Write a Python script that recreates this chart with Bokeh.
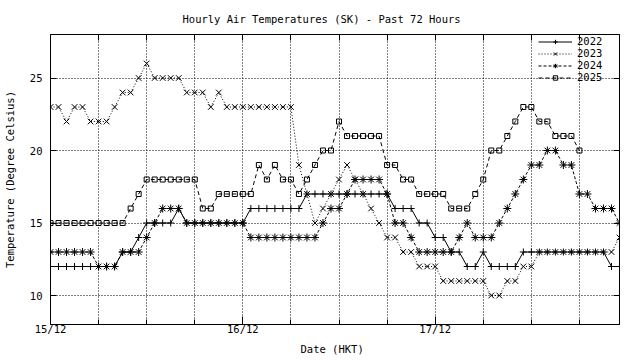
from bokeh.plotting import figure
from bokeh.models import FixedTicker, LinearAxis, Range1d, Legend, LegendItem, Title
from bokeh.embed import file_html
from bokeh.resources import INLINE

# ---------------- data ----------------
hours = list(range(72))            # hours since 15/12 00:00 HKT
day_ticks = [0, 24, 48]
day_labels = ["15/12", "16/12", "17/12"]
six_hour_ticks = [6, 12, 18, 24, 30, 36, 42, 48, 54, 60, 66]
minor_ticks = [6, 12, 18, 30, 36, 42, 54, 60, 66]
temp_ticks = [10, 15, 20, 25]

t2022 = [12, 12, 12, 12, 12, 12, 12, 12, 12, 13, 13, 14, 15, 15, 15, 15, 16, 15,
         15, 15, 15, 15, 15, 15, 15, 16, 16, 16, 16, 16, 16, 16, 17, 17, 17, 17,
         17, 17, 17, 17, 17, 17, 17, 16, 16, 16, 15, 15, 14, 14, 13, 13, 12, 12,
         13, 12, 12, 12, 12, 13, 13, 13, 13, 13, 13, 13, 13, 13, 13, 13, 12, 12]
t2023 = [23, 23, 22, 23, 23, 22, 22, 22, 23, 24, 24, 25, 26, 25, 25, 25, 25, 24,
         24, 24, 23, 24, 23, 23, 23, 23, 23, 23, 23, 23, 23, 19, 17, 15, 16, 17,
         18, 19, 18, 17, 16, 15, 14, 14, 13, 13, 12, 12, 12, 11, 11, 11, 11, 11,
         11, 10, 10, 11, 11, 12, 12, 13, 13, 13, 13, 13, 13, 13, 13, 13, 13, 14]
t2024 = [13, 13, 13, 13, 13, 13, 12, 12, 12, 13, 13, 13, 14, 15, 16, 16, 16, 15,
         15, 15, 15, 15, 15, 15, 15, 14, 14, 14, 14, 14, 14, 14, 14, 14, 15, 16,
         16, 17, 18, 18, 18, 18, 17, 15, 15, 14, 13, 13, 13, 13, 13, 14, 15, 14,
         14, 14, 15, 16, 17, 18, 19, 19, 20, 20, 19, 19, 17, 17, 16, 16, 16, 15]
t2025 = [15, 15, 15, 15, 15, 15, 15, 15, 15, 15, 16, 17, 18, 18, 18, 18, 18, 18,
         18, 16, 16, 17, 17, 17, 17, 17, 19, 18, 19, 18, 18, 17, 18, 19, 20, 20,
         22, 21, 21, 21, 21, 21, 19, 19, 18, 18, 17, 17, 17, 17, 16, 16, 16, 17,
         18, 20, 20, 21, 22, 23, 23, 22, 22, 21, 21, 21, 20]

series = [
    ("2022", t2022, "solid", "cross", 7),
    ("2023", t2023, "1 2", "x", 8),
    ("2024", t2024, "3 2", "asterisk", 8),
    ("2025", t2025, "4 3", "square", 5),
]

FONT = "DejaVu Sans Mono"
FS = "10.5px"

p = figure(width=640, height=360, output_backend="svg", toolbar_location=None,
           x_range=Range1d(0, 71), y_range=Range1d(8, 28),
           min_border_left=48, min_border_right=21, min_border_top=34,
           min_border_bottom=36)
p.background_fill_color = "white"
p.border_fill_color = "white"
p.outline_line_color = "black"
p.outline_line_width = 1

# title
p.title.text = "Hourly Air Temperatures (SK) - Past 72 Hours"
p.title.align = "left"
p.title.offset = 132
p.title.text_font = FONT
p.title.text_font_size = FS
p.title.text_font_style = "normal"
p.title.text_color = "black"
p.title.standoff = 20

# x axis
xa = p.xaxis[0]
xa.ticker = FixedTicker(ticks=day_ticks, minor_ticks=minor_ticks)
xa.major_label_overrides = {t: lab for t, lab in zip(day_ticks, day_labels)}
xa.major_label_text_font = FONT
xa.major_label_text_font_size = FS
xa.major_tick_in = 8
xa.major_tick_out = 0
xa.minor_tick_in = 5
xa.minor_tick_out = 0
xa.major_label_standoff = -2

xlabel = Title(text="Date (HKT)", align="left", offset=250, text_font=FONT,
               text_font_size=FS, text_font_style="normal", text_color="black",
               standoff=7)
p.add_layout(xlabel, "below")

# y axis
ya = p.yaxis[0]
ya.ticker = FixedTicker(ticks=temp_ticks)
ya.axis_label = "Temperature (Degree Celsius)"
ya.major_label_text_font = FONT
ya.major_label_text_font_size = FS
ya.axis_label_text_font = FONT
ya.axis_label_text_font_size = FS
ya.axis_label_text_font_style = "normal"
ya.major_tick_in = 6
ya.major_tick_out = 0
ya.minor_tick_line_color = None
ya.major_label_standoff = 8
ya.axis_label_standoff = 11

for ax in (xa, ya):
    ax.axis_line_color = "black"
    ax.major_tick_line_color = "black"
    ax.major_label_text_color = "black"
    ax.axis_label_text_color = "black"

# mirrored ticks (no labels: ticks given as minor ticks only)
ra = LinearAxis(ticker=FixedTicker(ticks=[], minor_ticks=temp_ticks),
                major_tick_in=0, major_tick_out=0, minor_tick_in=6, minor_tick_out=0,
                major_label_standoff=0, axis_line_color="black",
                minor_tick_line_color="black")
p.add_layout(ra, "right")
ta = LinearAxis(ticker=FixedTicker(ticks=[], minor_ticks=six_hour_ticks),
                major_tick_in=0, major_tick_out=0, minor_tick_in=6, minor_tick_out=0,
                major_label_standoff=-6, axis_line_color="black",
                minor_tick_line_color="black")
p.add_layout(ta, "above")

# grid
p.xgrid.ticker = FixedTicker(ticks=six_hour_ticks)
p.ygrid.ticker = FixedTicker(ticks=temp_ticks)
for g in (p.xgrid[0], p.ygrid[0]):
    g.grid_line_color = "black"
    g.grid_line_dash = "1 2"
    g.grid_line_width = 1

items = []
for name, vals, dash, marker, size in series:
    xs = hours[:len(vals)]
    ln = p.line(xs, vals, line_color="black", line_width=1, line_dash=dash)
    sc = p.scatter(xs, vals, marker=marker, size=size, line_color="black",
                   fill_color=None, line_width=1)
    items.append(LegendItem(label=name, renderers=[ln, sc]))

legend = Legend(items=items, location=(486, 239))
legend.background_fill_alpha = 0
legend.border_line_alpha = 0
legend.label_text_font = FONT
legend.label_text_font_size = FS
legend.label_text_color = "black"
legend.glyph_width = 34
legend.glyph_height = 11
legend.label_height = 11
legend.spacing = 0
legend.padding = 2
legend.margin = 0
legend.label_standoff = 5
p.add_layout(legend, "center")

open("out.html", "w").write(file_html(p, INLINE))
